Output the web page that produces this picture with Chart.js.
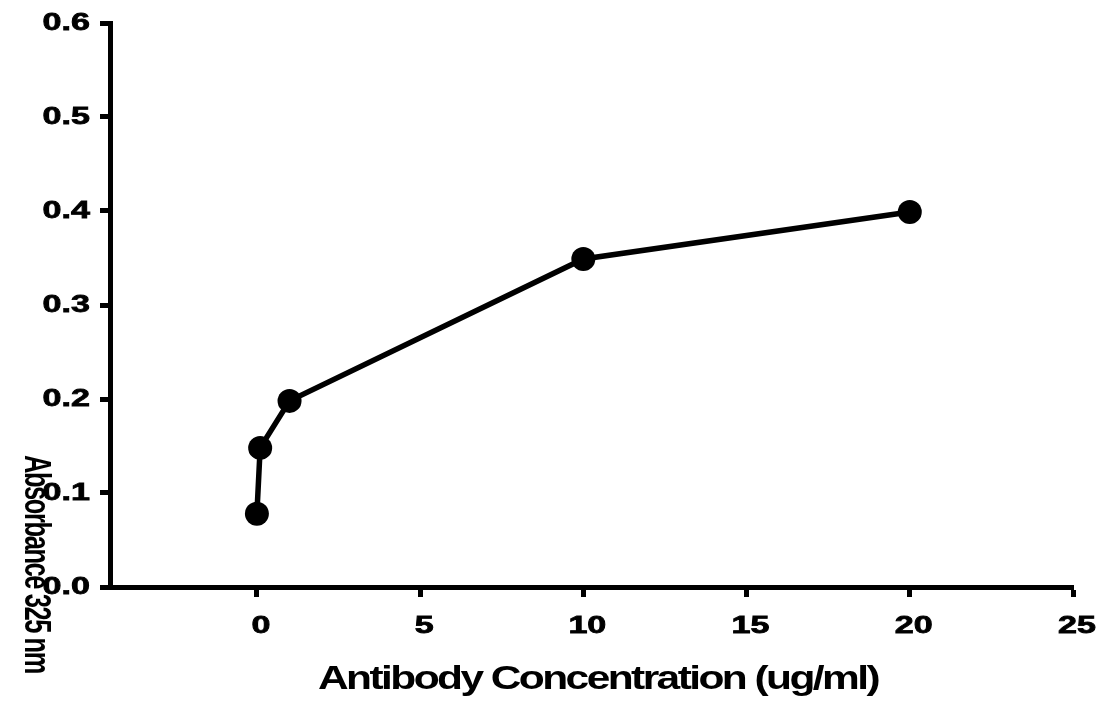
<!DOCTYPE html>
<html>
<head>
<meta charset="utf-8">
<script src="https://cdn.jsdelivr.net/npm/chart.js@4"></script>
<style>
    html, body { margin: 0; padding: 0; background: #fff; }
    #wrap { position: relative; width: 1113px; height: 709px; }
</style>
</head>
<body>
<div id="wrap"><canvas id="chart"></canvas></div>
<script>
// ── Data ───────────────────────────────────────────────────
const concentrations = [0, 0.1, 1, 10, 20];
const absorbance     = [0.078, 0.148, 0.198, 0.349, 0.399];
const xTicks = [0, 5, 10, 15, 20, 25];
const yTicks = [0.0, 0.1, 0.2, 0.3, 0.4, 0.5, 0.6];
const xTitle = 'Antibody Concentration (ug/ml)';
const yTitle = 'Absorbance 325 nm';

// ── Stretched labels (the original is horizontally squashed/stretched) ──
const labelPlugin = {
    id: 'stretchedLabels',
    afterDraw(chart) {
        const ctx = chart.ctx;
        const xs = chart.scales.x, ys = chart.scales.y;
        ctx.save();
        ctx.fillStyle = '#000';
        ctx.strokeStyle = '#000';
        ctx.lineWidth = 0.8;
        ctx.font = 'bold 24px Arial, "Liberation Sans"';
        ctx.textBaseline = 'middle';

        // y tick labels
        ctx.textAlign = 'right';
        yTicks.forEach(v => {
            const py = ys.getPixelForValue(v);
            ctx.save();
            ctx.translate(90, py);
            ctx.scale(1.42, 1);
            ctx.fillText(v.toFixed(1), 0, 0);
            ctx.strokeText(v.toFixed(1), 0, 0);
            ctx.restore();
        });

        // x tick labels
        ctx.textAlign = 'center';
        xTicks.forEach(v => {
            const px = xs.getPixelForValue(v) + 4;
            ctx.save();
            ctx.translate(px, 626);
            ctx.scale(1.42, 1);
            ctx.fillText(String(v), 0, 0);
            ctx.strokeText(String(v), 0, 0);
            ctx.restore();
        });

        // x title
        ctx.font = 'bold 33px Arial, "Liberation Sans"';
        ctx.letterSpacing = '-2px';
        let w = ctx.measureText(xTitle).width;
        ctx.save();
        ctx.translate(598, 680);
        ctx.scale(560 / w, 1);
        ctx.fillText(xTitle, 0, 0);
        ctx.restore();

        // y title, rotated clockwise
        ctx.font = 'bold 36px Arial, "Liberation Sans"';
        ctx.letterSpacing = '-2px';
        w = ctx.measureText(yTitle).width;
        ctx.save();
        ctx.translate(35, 564);
        ctx.rotate(Math.PI / 2);
        ctx.scale(218 / w, 1);
        ctx.fillText(yTitle, 0, 0);
        ctx.restore();

        ctx.restore();
    }
};

// ── Chart ──────────────────────────────────────────────────
new Chart(document.getElementById('chart'), {
    type: 'line',
    data: {
        datasets: [{
            data: concentrations.map((c, i) => ({ x: c, y: absorbance[i] })),
            borderColor: '#000',
            borderWidth: 5.5,
            tension: 0,
            pointRadius: 12,
            pointHoverRadius: 12,
            pointBackgroundColor: '#000',
            pointBorderColor: '#000',
            pointBorderWidth: 0,
            clip: false
        }]
    },
    options: {
        responsive: true, maintainAspectRatio: false,
        animation: false,
        layout: { padding: { left: 0, right: 40, top: 23, bottom: 0 } },
        plugins: { legend: { display: false }, tooltip: { enabled: false } },
        scales: {
            x: {
                type: 'linear', min: -4.5, max: 25,
                afterBuildTicks: s => { s.ticks = xTicks.map(v => ({ value: v })); },
                afterFit: s => { s.height = 122; },
                ticks: { display: false },
                grid: { display: true, drawOnChartArea: false, drawTicks: true, tickLength: 10, tickWidth: 5, tickColor: '#000' },
                border: { display: true, width: 5, color: '#000' }
            },
            y: {
                type: 'linear', min: 0, max: 0.6,
                afterBuildTicks: s => { s.ticks = yTicks.map(v => ({ value: v })); },
                afterFit: s => { s.width = 110; },
                ticks: { display: false },
                grid: { display: true, drawOnChartArea: false, drawTicks: true, tickLength: 10, tickWidth: 5, tickColor: '#000' },
                border: { display: true, width: 5, color: '#000' }
            }
        }
    },
    plugins: [labelPlugin]
});
</script>
</body>
</html>
